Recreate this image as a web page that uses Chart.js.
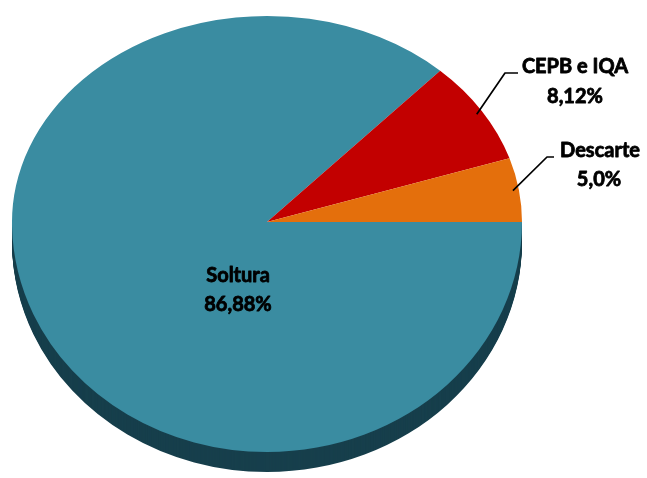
<!DOCTYPE html>
<html>
<head>
<meta charset="utf-8">
<script src="https://cdn.jsdelivr.net/npm/chart.js@4"></script>
<style>
  html, body { margin: 0; padding: 0; background: #ffffff; }
  #wrap { width: 647px; height: 478px; position: relative; }
</style>
</head>
<body>
<div id="wrap"><canvas id="c"></canvas></div>
<script>
// ---- data ----
const categories = ['Soltura', 'CEPB e IQA', 'Descarte'];
const values = [86.88, 8.12, 5.0];
const valueLabels = ['86,88%', '8,12%', '5,0%'];
const sliceColors = ['#3a8ca1', '#c20000', '#e46f0c'];
const sideColors = ['#173f4c', '#6a0000', '#7d3a06'];

// ---- layout (screen geometry of the tilted pie) ----
const CX = 267, CY = 222;          // pie vertex
const RX = 255, RY_TOP = 206, RY_BOT = 230, DEPTH = 20;
const labelLayout = [
  { inside: true, text: [238, 276], value: [238, 305] },
  { elbow: [505, 73], end: [518, 73], text: [575, 67], value: [575, 97] },
  { elbow: [547, 157], end: [554, 157], text: [600, 151], value: [599, 180] }
];

function withArcTransform(ctx, arc, sy, dy, clip, fn) {
  ctx.save();
  ctx.beginPath();
  ctx.rect(clip[0], clip[1], clip[2], clip[3]);
  ctx.clip();
  ctx.translate(CX, CY + dy);
  ctx.scale(RX / arc.outerRadius, sy / arc.outerRadius);
  ctx.translate(-arc.x, -arc.y);
  fn();
  ctx.restore();
}

function drawWithColor(arc, ctx, color) {
  const proxy = Object.create(arc);
  proxy.options = Object.assign({}, arc.options, { backgroundColor: color, borderWidth: 0 });
  arc.draw.call(proxy, ctx);
}

const pie3d = {
  id: 'pie3d',
  beforeDatasetsDraw(chart) {
    const ctx = chart.ctx;
    const arcs = chart.getDatasetMeta(0).data;
    const W = chart.width, H = chart.height;
    // side wall (extrusion of the near half)
    for (let d = DEPTH; d >= 1; d--) {
      arcs.forEach((arc, i) => {
        withArcTransform(ctx, arc, RY_BOT, d, [0, CY, W, H], () => drawWithColor(arc, ctx, sideColors[i]));
      });
    }
    // top face: far half and near half with different vertical radii
    arcs.forEach((arc, i) => {
      withArcTransform(ctx, arc, RY_TOP, 0, [0, 0, W, CY + 0.5], () => drawWithColor(arc, ctx, sliceColors[i]));
      withArcTransform(ctx, arc, RY_BOT, 0, [0, CY, W, H], () => drawWithColor(arc, ctx, sliceColors[i]));
    });
    return false;
  },
  afterDraw(chart) {
    const ctx = chart.ctx;
    const arcs = chart.getDatasetMeta(0).data;
    ctx.save();
    ctx.font = 'bold 20px Lato';
    ctx.fillStyle = '#000000';
    ctx.strokeStyle = '#000000';
    ctx.textAlign = 'center';
    ctx.textBaseline = 'middle';
    arcs.forEach((arc, i) => {
      const L = labelLayout[i];
      if (!L.inside) {
        const mid = (arc.startAngle + arc.endAngle) / 2;
        const sy = Math.sin(mid) < 0 ? RY_TOP : RY_BOT;
        const px = CX + Math.cos(mid) * (RX - 6);
        const py = CY + Math.sin(mid) * (sy - 6);
        ctx.beginPath();
        ctx.lineWidth = 1.7;
        ctx.moveTo(px, py);
        ctx.lineTo(L.elbow[0], L.elbow[1]);
        ctx.lineTo(L.end[0], L.end[1]);
        ctx.stroke();
      }
      ctx.lineWidth = 0.8;
      ctx.lineJoin = 'round';
      ctx.fillText(categories[i], L.text[0], L.text[1]);
      ctx.strokeText(categories[i], L.text[0], L.text[1]);
      ctx.fillText(valueLabels[i], L.value[0], L.value[1]);
      ctx.strokeText(valueLabels[i], L.value[0], L.value[1]);
    });
    ctx.restore();
  }
};

new Chart(document.getElementById('c'), {
  type: 'pie',
  data: {
    labels: categories,
    datasets: [{
      data: values,
      backgroundColor: sliceColors,
      borderWidth: 0
    }]
  },
  options: {
    responsive: true,
    maintainAspectRatio: false,
    animation: false,
    rotation: 90,
    plugins: { legend: { display: false }, tooltip: { enabled: false } },
    events: []
  },
  plugins: [pie3d]
});
</script>
</body>
</html>
